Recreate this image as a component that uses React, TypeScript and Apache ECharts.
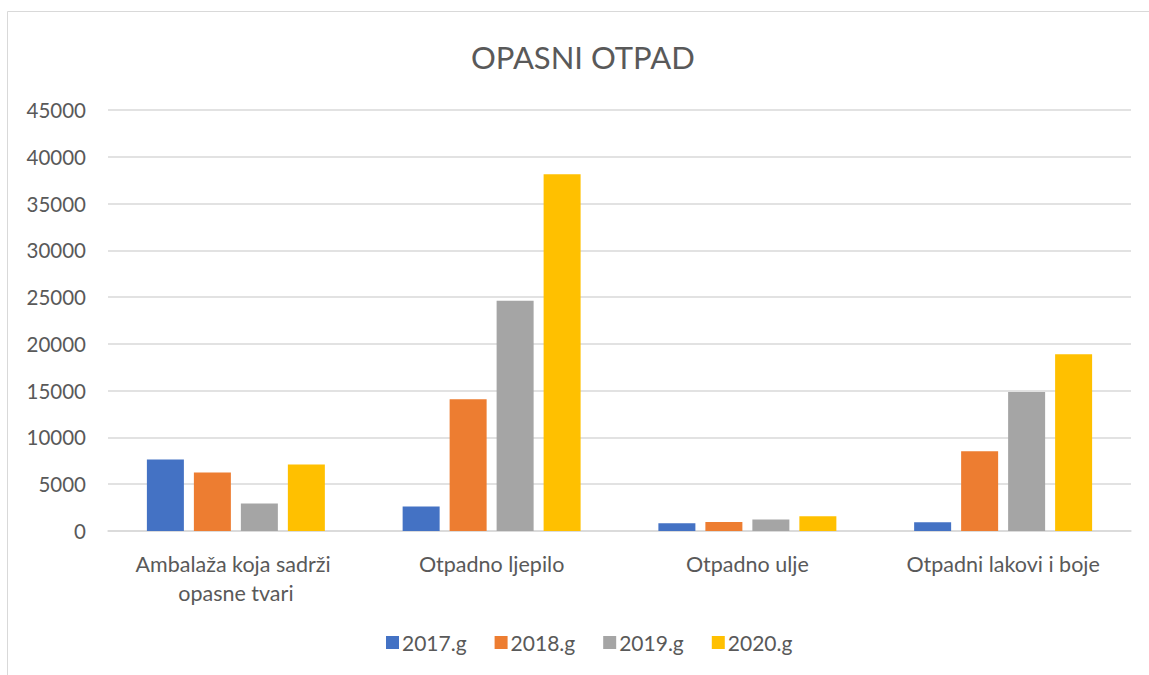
import React, { useEffect, useRef } from "react";
import * as echarts from "echarts";

const categories = [
  "Ambalaža koja sadrži opasne tvari",
  "Otpadno ljepilo",
  "Otpadno ulje",
  "Otpadni lakovi i boje",
];
const seriesNames = ["2017.g", "2018.g", "2019.g", "2020.g"];
const values2017 = [7640, 2610, 820, 930];
const values2018 = [6250, 14090, 960, 8530];
const values2019 = [2930, 24600, 1220, 14870];
const values2020 = [7100, 38120, 1570, 18900];
const colors = ["#4472C4", "#ED7D31", "#A5A5A5", "#FFC000"];

const FONT = "Lato";

export default function App() {
  const ref = useRef<HTMLDivElement>(null);
  useEffect(() => {
    if (!ref.current) return;
    const chart = echarts.init(ref.current, undefined, { renderer: "svg" });
    const data = [values2017, values2018, values2019, values2020];
    chart.setOption({
      animation: false,
      backgroundColor: "#ffffff",
      graphic: [
        {
          type: "rect",
          shape: { x: 7.5, y: 11.5, width: 1160, height: 680 },
          style: { fill: "none", stroke: "#D9D9D9", lineWidth: 1 },
          silent: true,
        },
      ],
      title: {
        text: "OPASNI OTPAD",
        left: 466,
        top: 36,
        textStyle: { fontFamily: FONT, fontSize: 31, fontWeight: "normal", color: "#595959" },
      },
      legend: {
        bottom: 17,
        left: 381,
        itemWidth: 13,
        itemHeight: 13,
        itemGap: 28,
        icon: "rect",
        data: seriesNames,
        textStyle: { fontFamily: FONT, fontSize: 21, color: "#595959", padding: [0, 0, 0, -2] },
      },
      grid: { left: 108, right: 18, top: 110, bottom: 144 },
      xAxis: {
        type: "category",
        data: categories,
        axisLine: { lineStyle: { color: "#D9D9D9", width: 1.5 } },
        axisTick: { show: false },
        axisLabel: {
          interval: 0,
          fontFamily: FONT,
          fontSize: 21.5,
          color: "#595959",
          margin: 18,
          width: 240,
          overflow: "break",
          lineHeight: 29,
        },
      },
      yAxis: {
        type: "value",
        min: 0,
        max: 45000,
        interval: 5000,
        axisLine: { show: false },
        axisTick: { show: false },
        splitLine: { lineStyle: { color: "#D9D9D9", width: 1.5 } },
        axisLabel: {
          fontFamily: FONT,
          fontSize: 20.5,
          color: "#595959",
          margin: 22,
          formatter: (v: number) => String(v),
        },
      },
      series: seriesNames.map((name, i) => ({
        name,
        type: "bar",
        data: data[i],
        barWidth: 37,
        barGap: "27%",
        itemStyle: { color: colors[i] },
      })),
    });
    return () => chart.dispose();
  }, []);
  return (
    <div
      ref={ref}
      style={{ position: "fixed", left: 0, top: 0, width: 1149, height: 675 }}
    />
  );
}
